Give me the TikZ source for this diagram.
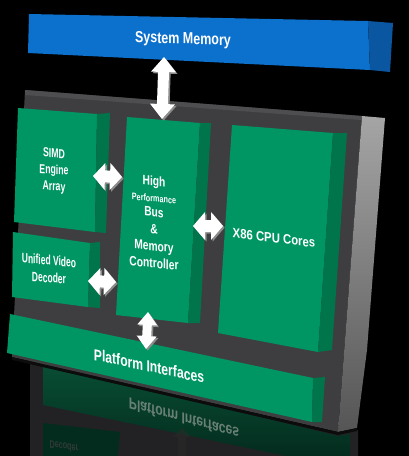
\documentclass[tikz,border=0pt]{standalone}
\usepackage{fontspec}
\setmainfont{Liberation Sans}
\usetikzlibrary{calc}
\definecolor{memfront}{RGB}{12,112,205}
\definecolor{memside}{RGB}{10,86,160}
\definecolor{grfront}{RGB}{0,150,100}
\definecolor{grside}{RGB}{0,116,74}
\definecolor{boardc}{RGB}{62,62,64}
\definecolor{boardtop}{RGB}{78,78,80}
\definecolor{sidetop}{RGB}{165,165,165}
\definecolor{sidebot}{RGB}{85,85,85}
\definecolor{reflgreen}{RGB}{8,78,52}
\definecolor{reflgreendk}{RGB}{4,44,30}
\definecolor{reflgrey}{RGB}{34,34,36}
\definecolor{refltext}{RGB}{105,128,118}
\definecolor{arrowshade}{RGB}{140,140,140}
\tikzset{
  gfront/.style={fill=grfront},
  gside/.style={fill=grside},
  lbl/.style={inner sep=0pt, text=white, align=center},
  arrowfill/.style={fill=white},
  arrowshadow/.style={fill=arrowshade, transform canvas={shift={(1.6pt,-1.6pt)}}},
}
% #1 end A, #2 end B, #3 head length, #4 half head width, #5 half shaft width
\newcommand\myarrowpath[5]{(#1)
  -- ($(#1)!#3!(#2)!#4!90:(#2)$) -- ($(#1)!#3!(#2)!#5!90:(#2)$)
  -- ($(#2)!#3!(#1)!#5!-90:(#1)$) -- ($(#2)!#3!(#1)!#4!-90:(#1)$)
  -- (#2)
  -- ($(#2)!#3!(#1)!#4!90:(#1)$) -- ($(#2)!#3!(#1)!#5!90:(#1)$)
  -- ($(#1)!#3!(#2)!#5!-90:(#2)$) -- ($(#1)!#3!(#2)!#4!-90:(#2)$) -- cycle}
\newcommand\myblockarrow[5]{%
  \fill[arrowshadow] \myarrowpath{#1}{#2}{#3}{#4}{#5};
  \fill[arrowfill] \myarrowpath{#1}{#2}{#3}{#4}{#5};}
\begin{document}
\begin{tikzpicture}[x=1pt,y=-1pt]
\useasboundingbox (0,0) rectangle (409,456);
\fill[black] (0,0) rectangle (409,456);

% ---------- reflection ----------
\fill[reflgrey] (30,360) -- (338,434) -- (358,430) -- (358,456) -- (30,456) -- cycle;
\shade[top color=reflgreen, bottom color=reflgreendk] (43,364) -- (338,436) -- (350,434) -- (350,456) -- (286,456) -- (43,405) -- cycle;
\fill[reflgreendk] (43,423) -- (120,432) -- (118,456) -- (43,456) -- cycle;
\fill[black!70!arrowshade, opacity=0.6] (182,428) -- (191,437) -- (186,437) -- (186,456) -- (178,456) -- (178,437) -- (173,437) -- cycle;
\node[lbl, text=refltext, font=\bfseries\fontsize{16}{19}\selectfont, yslant=-0.28, xscale=0.76, yscale=-1] (refltxt) at (184,419) {Platform Interfaces};
\node[lbl, text=refltext!45!black, font=\bfseries\fontsize{11}{13}\selectfont, yslant=-0.15, xscale=0.65, yscale=-1] (reflDec) at (64,447) {Decoder};

% ---------- system memory ----------
\fill[memfront] (29,14) -- (368,21) -- (370,70) -- (28,53) -- cycle;
\fill[memside] (368,21) -- (393,23) -- (390,72) -- (370,70) -- cycle;
\node[lbl, font=\bfseries\fontsize{16}{19}\selectfont, yslant=-0.03, xscale=0.78] (memtxt) at (183,40) {System Memory};
\coordinate (mem-bot) at (164,57);

% ---------- board ----------
\fill[boardc] (25,90) -- (362,116) -- (338,432) -- (12,357) -- cycle;
\fill[boardtop] (25,90) -- (362,116) -- (361,120) -- (25,95) -- cycle;
\shade[top color=sidetop, bottom color=sidebot] (362,116) -- (385,118) -- (367,350) -- (357,428) -- (338,432) -- cycle;
\fill[black!80!boardc] (12,357) -- (338,432) -- (357,428) -- (357,431) -- (338,435) -- (12,360) -- cycle;

% ---------- blocks ----------
% SIMD
\fill[gfront] (18,108) -- (97,114) -- (95,232) -- (14,222) -- cycle;
\fill[gside] (97,114) -- (110,113) -- (106,233) -- (95,232) -- cycle;
\node[lbl, font=\bfseries\fontsize{13}{16.5}\selectfont, yslant=-0.07, xscale=0.67] (simdtxt) at (54,171) {SIMD\\Engine\\Array};
% Unified video decoder
\fill[gfront] (13,232) -- (90,243) -- (88,307) -- (12,297) -- cycle;
\fill[gside] (90,243) -- (100,242) -- (100,308) -- (88,307) -- cycle;
\node[lbl, font=\bfseries\fontsize{13.5}{17.5}\selectfont, yslant=-0.09, xscale=0.63] (uvdtxt) at (49,269) {Unified Video\\Decoder};
% High performance bus
\fill[gfront] (127,117) -- (200,123) -- (188,323) -- (116,315) -- cycle;
\fill[gside] (200,123) -- (211,123) -- (200,323) -- (188,323) -- cycle;
\node[lbl, font=\bfseries\fontsize{13.5}{17}\selectfont, yslant=-0.1, xscale=0.76] (hpbtxt) at (154,222)
  {High\\[-1pt]{\fontsize{9.5}{11}\selectfont Performance}\\[-2pt]Bus\\\&\\Memory\\Controller};
% X86 CPU cores
\fill[gfront] (232,125) -- (333,133) -- (318,352) -- (218,333) -- cycle;
\fill[gside] (333,133) -- (347,133) -- (332,350) -- (318,352) -- cycle;
\node[lbl, font=\bfseries\fontsize{13.5}{16}\selectfont, yslant=-0.12, xscale=0.84] (cputxt) at (274,238) {X86 CPU Cores};
% Platform interfaces
\fill[gfront] (10,314) -- (313,378) -- (312,422) -- (7,353) -- cycle;
\fill[gside] (313,378) -- (325,377) -- (322,422) -- (312,422) -- cycle;
\node[lbl, font=\bfseries\fontsize{16}{19}\selectfont, yslant=-0.21, xscale=0.76] (plattxt) at (149,366) {Platform Interfaces};

% ---------- connector end points ----------
\coordinate (hpb-top) at (162,119);
\coordinate (simd-right) at (93,176);
\coordinate (hpb-left1) at (122,177);
\coordinate (hpb-right) at (193,226);
\coordinate (cpu-left) at (223,226);
\coordinate (uvd-right) at (88,281);
\coordinate (hpb-left2) at (116,282);
\coordinate (hpb-bot) at (148,312);
\coordinate (plat-top) at (146,349);

% ---------- connectors ----------
\myblockarrow{mem-bot}{hpb-top}{15pt}{12.5pt}{5.5pt}
\myblockarrow{simd-right}{hpb-left1}{12pt}{13.5pt}{6pt}
\myblockarrow{hpb-right}{cpu-left}{12pt}{14pt}{6pt}
\myblockarrow{uvd-right}{hpb-left2}{12pt}{13.5pt}{6pt}
\myblockarrow{hpb-bot}{plat-top}{13pt}{10pt}{4.5pt}
\end{tikzpicture}
\end{document}
